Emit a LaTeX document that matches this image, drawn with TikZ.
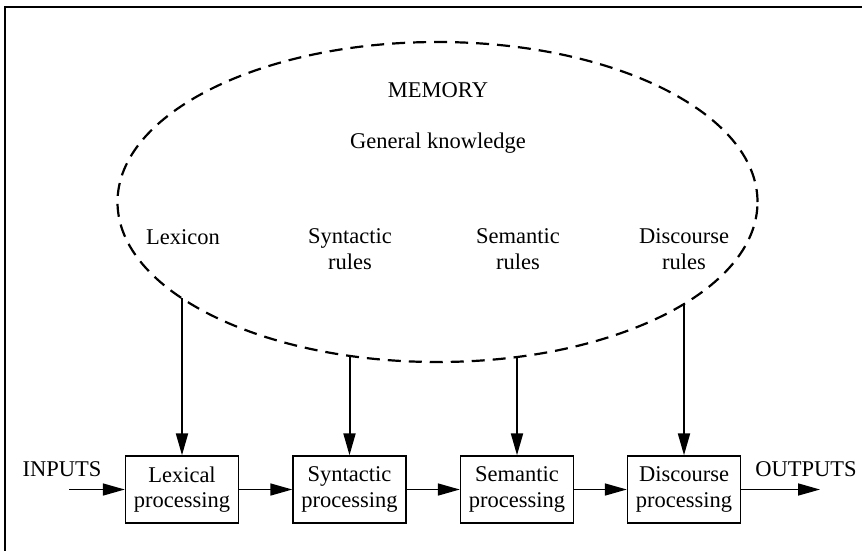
\documentclass[tikz,border=0pt]{standalone}
\usepackage{fontspec}
\setmainfont{Liberation Serif}
\usetikzlibrary{arrows.meta,shapes.geometric,positioning}
\begin{document}
\begin{tikzpicture}[x=1pt,y=-1pt,
  txt/.style={font=\fontsize{22.5}{25.5}\selectfont,align=center,inner sep=0pt},
  procbox/.style={txt,draw,line width=1.4pt,minimum width=113pt,minimum height=67pt},
  memory/.style={ellipse,draw,dash pattern=on 13pt off 8pt,line width=2.2pt,
                 minimum width=640pt,minimum height=320pt,inner sep=0pt},
  flow/.style={line width=2pt,-{Triangle[length=22pt,width=12pt]}},
  hflow/.style={line width=1.6pt,-{Triangle[length=22pt,width=12pt]}},
  frameline/.style={line width=2pt}]
\useasboundingbox (0,0) rectangle (862,550);

% frame
\draw[frameline] (5,551) -- (5,7) -- (863,7);

% memory store
\node[memory] (mem) at (437.5,202) {};
\node[txt] (memtitle) at (438,90) {MEMORY};
\node[txt] (general) at (438,143) {General knowledge};
\node[txt] (lexicon) at (183,237) {Lexicon};
\node[txt] (synrules) at (350,249) {Syntactic\\rules};
\node[txt] (semrules) at (518,249) {Semantic\\rules};
\node[txt] (disrules) at (684,249) {Discourse\\rules};

% processing stages
\node[procbox] (lex) at (182,489.5) {Lexical\\processing};
\node[procbox] (syn) at (349.5,489.5) {Syntactic\\processing};
\node[procbox] (sem) at (517,489.5) {Semantic\\processing};
\node[procbox] (dis) at (684,489.5) {Discourse\\processing};

\node[txt] (inputs) at (62,469) {INPUTS};
\node[txt] (outputs) at (806,469) {OUTPUTS};
\coordinate (instart) at (69,489.5);
\coordinate (outend) at (820,489.5);

% points where the arrows leave the memory ellipse
\coordinate (mlex) at (182,298);
\coordinate (msyn) at (349.5,356);
\coordinate (msem) at (517,357);
\coordinate (mdis) at (684,304);

\draw[flow] (mlex) -- (lex);
\draw[flow] (msyn) -- (syn);
\draw[flow] (msem) -- (sem);
\draw[flow] (mdis) -- (dis);

\draw[hflow] (instart) -- (lex);
\draw[hflow] (lex) -- (syn);
\draw[hflow] (syn) -- (sem);
\draw[hflow] (sem) -- (dis);
\draw[hflow] (dis) -- (outend);
\end{tikzpicture}
\end{document}
